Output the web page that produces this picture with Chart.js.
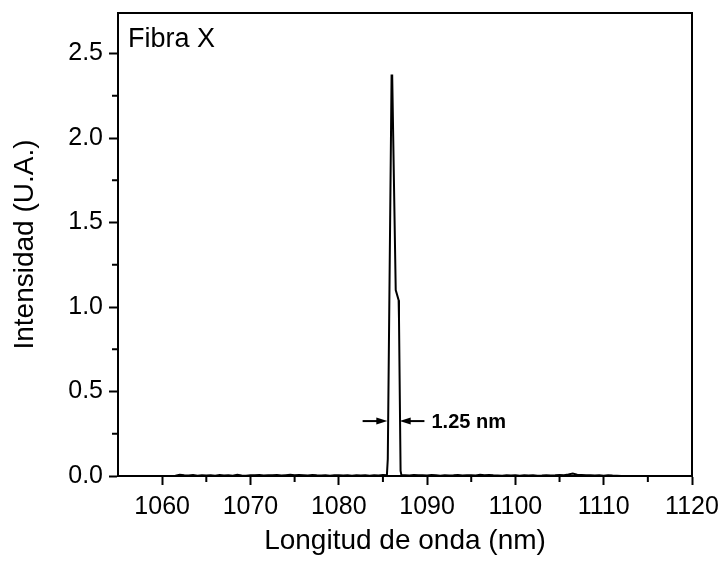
<!DOCTYPE html>
<html>
<head>
<meta charset="utf-8">
<script src="https://cdn.jsdelivr.net/npm/chart.js@4/dist/chart.umd.min.js"></script>
<style>
  html, body { margin: 0; padding: 0; background: #fff; }
  #wrap { width: 722px; height: 563px; }
</style>
</head>
<body>
<div id="wrap"><canvas id="chart" width="722" height="563"></canvas></div>
<script>
// spectrum (nm, arbitrary units)
const wavelength = [
  1055, 1061,
  1061.5, 1062, 1062.5, 1063, 1063.5, 1064, 1064.5, 1065, 1065.5, 1066,
  1066.5, 1067, 1067.5, 1068, 1068.5, 1069, 1069.5, 1070, 1070.5, 1071,
  1071.5, 1072, 1072.5, 1073, 1073.5, 1074, 1074.5, 1075, 1075.5, 1076,
  1076.5, 1077, 1077.5, 1078, 1078.5, 1079, 1079.5, 1080, 1080.5, 1081,
  1081.5, 1082, 1082.5, 1083, 1083.5, 1084, 1084.5, 1085,
  1085.45, 1085.55, 1085.98, 1086.05, 1086.45, 1086.78, 1086.82, 1087.0, 1087.1,
  1087.5, 1088, 1088.5, 1089, 1089.5, 1090, 1090.5, 1091, 1091.5, 1092,
  1092.5, 1093, 1093.5, 1094, 1094.5, 1095, 1095.5, 1096, 1096.5, 1097,
  1097.5, 1098, 1098.5, 1099, 1099.5, 1100, 1100.5, 1101, 1101.5, 1102,
  1102.5, 1103, 1103.5, 1104, 1104.5, 1105, 1105.5, 1106, 1106.5, 1107,
  1107.5, 1108, 1108.5, 1109, 1109.5, 1110, 1110.5, 1111, 1111.5,
  1112, 1120
];
const intensity = [
  0, 0,
  0.002, 0.008, 0.005, 0.003, 0.006, 0.002, 0.004, 0.003, 0.005, 0.002,
  0.006, 0.003, 0.004, 0.002, 0.007, 0.003, 0.002, 0.005, 0.004, 0.006,
  0.003, 0.005, 0.004, 0.006, 0.003, 0.005, 0.007, 0.004, 0.006, 0.005,
  0.003, 0.006, 0.004, 0.003, 0.005, 0.002, 0.004, 0.005, 0.003, 0.004,
  0.002, 0.005, 0.003, 0.004, 0.002, 0.004, 0.003, 0.006,
  0.005, 0.1, 2.37, 2.37, 1.10, 1.04, 0.93, 0.03, 0.004,
  0.005, 0.003, 0.006, 0.004, 0.005, 0.003, 0.006, 0.004, 0.002, 0.005,
  0.003, 0.004, 0.006, 0.003, 0.005, 0.004, 0.003, 0.007, 0.005, 0.006,
  0.004, 0.003, 0.002, 0.005, 0.003, 0.004, 0.002, 0.005, 0.003, 0.004,
  0.002, 0.003, 0.005, 0.003, 0.004, 0.006, 0.005, 0.009, 0.014, 0.008,
  0.006, 0.004, 0.005, 0.003, 0.004, 0.002, 0.005, 0.003, 0.002,
  0, 0
];

const xMajorTicks = [1060, 1070, 1080, 1090, 1100, 1110, 1120];
const xMinorTicks = [1065, 1075, 1085, 1095, 1105, 1115];
const yMajorTicks = [0, 0.5, 1.0, 1.5, 2.0, 2.5];
const yMinorTicks = [0.25, 0.75, 1.25, 1.75, 2.25];

// FWHM marker
const fwhmLevel = 0.325;
const leftArrow = [1082.7, 1085.5];
const rightArrow = [1089.7, 1086.9];
const fwhmLabelX = 1090.5;
const fwhmLabel = '1.25 nm';
const panelLabel = 'Fibra X';

const FONT = "'Liberation Sans', Arial, Helvetica, sans-serif";

function arrow(ctx, x0, x1, y) {
  const dir = Math.sign(x1 - x0);
  ctx.beginPath();
  ctx.moveTo(x0, y);
  ctx.lineTo(x1 - dir * 10, y);
  ctx.stroke();
  ctx.beginPath();
  ctx.moveTo(x1, y);
  ctx.lineTo(x1 - dir * 11, y - 3.5);
  ctx.lineTo(x1 - dir * 11, y + 3.5);
  ctx.closePath();
  ctx.fill();
}

const extras = {
  id: 'extras',
  afterDraw(chart) {
    const { ctx, chartArea: a, scales: { x, y } } = chart;
    ctx.save();
    ctx.strokeStyle = '#000';
    ctx.fillStyle = '#000';
    ctx.lineWidth = 2;
    // top and right frame
    ctx.beginPath();
    ctx.moveTo(a.left - 1, a.top);
    ctx.lineTo(a.right, a.top);
    ctx.lineTo(a.right, a.bottom);
    ctx.stroke();
    // minor ticks
    ctx.beginPath();
    xMinorTicks.forEach(v => {
      const px = x.getPixelForValue(v);
      ctx.moveTo(px, a.bottom);
      ctx.lineTo(px, a.bottom + 6);
    });
    yMinorTicks.forEach(v => {
      const py = y.getPixelForValue(v);
      ctx.moveTo(a.left, py);
      ctx.lineTo(a.left - 6, py);
    });
    ctx.stroke();
    // FWHM arrows and label
    const ay = y.getPixelForValue(fwhmLevel);
    arrow(ctx, x.getPixelForValue(leftArrow[0]), x.getPixelForValue(leftArrow[1]), ay);
    arrow(ctx, x.getPixelForValue(rightArrow[0]), x.getPixelForValue(rightArrow[1]), ay);
    ctx.font = 'bold 20px ' + FONT;
    ctx.textBaseline = 'middle';
    ctx.textAlign = 'left';
    ctx.fillText(fwhmLabel, x.getPixelForValue(fwhmLabelX), ay + 1);
    // panel label
    ctx.font = '27px ' + FONT;
    ctx.textBaseline = 'alphabetic';
    ctx.fillText(panelLabel, a.left + 10, a.top + 34);
    ctx.restore();
  }
};

new Chart(document.getElementById('chart'), {
  type: 'line',
  data: {
    datasets: [{
      data: wavelength.map((w, i) => ({ x: w, y: intensity[i] })),
      borderColor: '#000',
      borderWidth: 2,
      pointRadius: 0,
      tension: 0,
      fill: false
    }]
  },
  options: {
    responsive: false,
    animation: false,
    layout: { padding: { top: 13, right: 30, left: 0, bottom: 0 } },
    plugins: { legend: { display: false }, tooltip: { enabled: false } },
    scales: {
      x: {
        type: 'linear',
        min: 1055,
        max: 1120,
        afterBuildTicks: s => { s.ticks = xMajorTicks.map(v => ({ value: v })); },
        afterFit: s => { s.height = 87; s.paddingLeft = 0; s.paddingRight = 0; },
        grid: { drawOnChartArea: false, tickLength: 9, tickWidth: 2, tickColor: '#000' },
        border: { color: '#000', width: 2 },
        ticks: {
          color: '#000', padding: 7, maxRotation: 0, autoSkip: false,
          font: { family: FONT, size: 25 },
          callback: v => String(v)
        },
        title: {
          display: true, text: 'Longitud de onda (nm)', color: '#000',
          font: { family: FONT, size: 28 }, padding: { top: 0, bottom: 5 }
        }
      },
      y: {
        min: 0,
        max: 2.74,
        afterBuildTicks: s => { s.ticks = yMajorTicks.map(v => ({ value: v })); },
        afterFit: s => { s.width = 118; s.paddingTop = 0; s.paddingBottom = 0; },
        grid: { drawOnChartArea: false, tickLength: 9, tickWidth: 2, tickColor: '#000' },
        border: { color: '#000', width: 2 },
        ticks: {
          color: '#000', padding: 6,
          font: { family: FONT, size: 25 },
          callback: v => v.toFixed(1)
        },
        title: {
          display: true, text: 'Intensidad (U.A.)', color: '#000',
          font: { family: FONT, size: 28 }, padding: { top: 8, bottom: 0 }
        }
      }
    }
  },
  plugins: [extras]
});
</script>
</body>
</html>
